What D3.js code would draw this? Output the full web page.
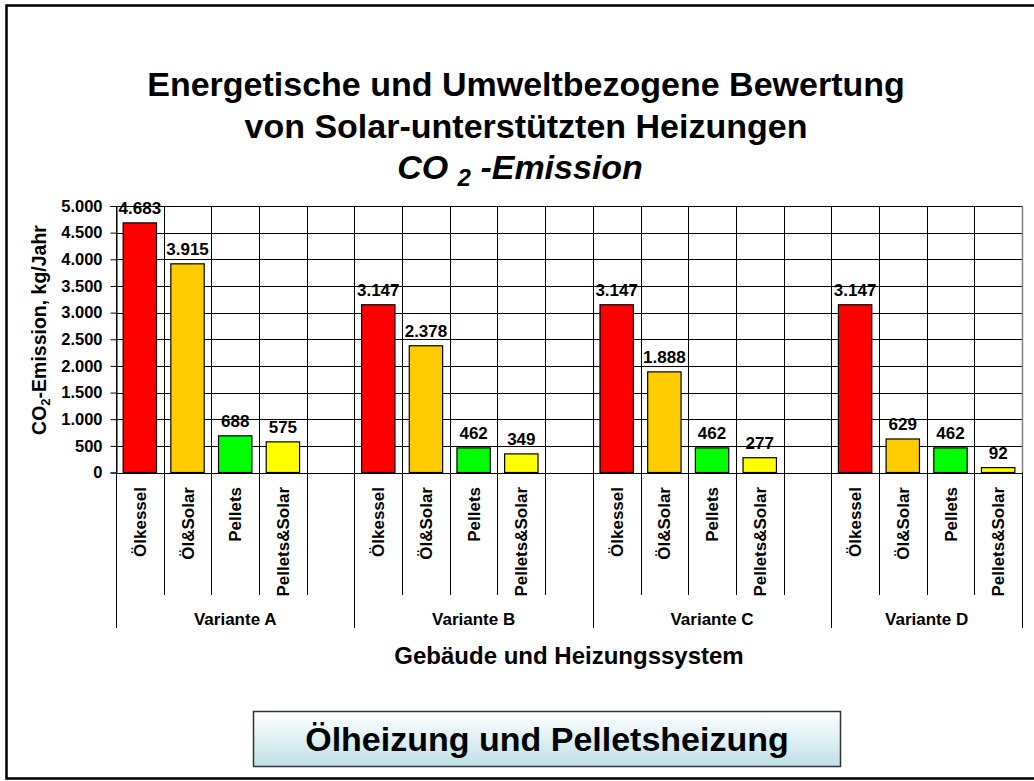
<!DOCTYPE html>
<html>
<head>
<meta charset="utf-8">
<style>
  html, body { margin: 0; background: #fff; overflow: hidden; }
  svg { display: block; }
  text { font-family: "Liberation Sans", Arial, sans-serif; font-weight: bold; fill: #000; }
</style>
</head>
<body>
<div id="chart"></div>

<script src="https://cdn.jsdelivr.net/npm/d3@7"></script>
<script>
    // chart data
    var variants = ["Variante A", "Variante B", "Variante C", "Variante D"];
    var systems = ["Ölkessel", "Öl&Solar", "Pellets", "Pellets&Solar"];
    var varianteA = [4683, 3915, 688, 575];
    var varianteB = [3147, 2378, 462, 349];
    var varianteC = [3147, 1888, 462, 277];
    var varianteD = [3147, 629, 462, 92];
    var yTicks = [0, 500, 1000, 1500, 2000, 2500, 3000, 3500, 4000, 4500, 5000];

    var barColors = ["#ff0000", "#ffcc00", "#00ff00", "#ffff00"];

    var width = 1034, height = 781;
    var plotLeft = 116, plotRight = 1022, plotTop = 206, plotBottom = 472.5;

    var de = d3.formatLocale({ decimal: ",", thousands: ".", grouping: [3], currency: ["", " €"] });
    var fmt = de.format(",");

    var svg = d3.select("#chart")
        .append("svg")
        .attr("width", width)
        .attr("height", height);

    // outer frame: top, left and bottom edges (right edge is off-screen)
    svg.append("path")
        .attr("d", "M" + width + ",5.5 H6.5 V778.5 H" + width)
        .attr("fill", "none")
        .attr("stroke", "#000")
        .attr("stroke-width", 2.5);

    // build slots: 4 systems per variant + an empty slot between variants
    var seriesByVariant = [varianteA, varianteB, varianteC, varianteD];
    var slots = [];
    var bars = [];
    variants.forEach(function(v, i) {
        systems.forEach(function(s, j) {
            var key = v + "|" + s;
            slots.push(key);
            bars.push({ key: key, variant: v, system: s, idx: j, value: seriesByVariant[i][j] });
        });
        if (i < variants.length - 1) slots.push(v + "|gap");
    });

    var x = d3.scaleBand()
        .domain(slots)
        .range([plotLeft, plotRight]);

    var y = d3.scaleLinear()
        .domain([0, 5000])
        .range([plotBottom, plotTop]);

    var step = x.step();

    // horizontal grid lines
    svg.append("g")
        .selectAll("line")
        .data(yTicks)
        .enter().append("line")
          .attr("x1", plotLeft).attr("x2", plotRight)
          .attr("y1", function(d) { return Math.round(y(d)) + 0.5; })
          .attr("y2", function(d) { return Math.round(y(d)) + 0.5; })
          .attr("stroke", "#000")
          .attr("stroke-width", 1);

    // vertical grid lines + category separators below the axis
    var variantStarts = variants.map(function(v) { return x(v + "|" + systems[0]); });
    var bounds = slots.map(function(s) { return x(s); }).concat([plotRight]);
    svg.append("g")
        .selectAll("line")
        .data(bounds)
        .enter().append("line")
          .attr("x1", function(d) { return Math.round(d) + 0.5; })
          .attr("x2", function(d) { return Math.round(d) + 0.5; })
          .attr("y1", plotTop)
          .attr("y2", function(d, i) {
              var isVariant = i === bounds.length - 1 || variantStarts.some(function(s) { return Math.abs(s - d) < 0.1; });
              return isVariant ? 628 : 595;
          })
          .attr("stroke", "#000")
          .attr("stroke-width", 1);

    // right plot border in grey
    svg.append("line")
        .attr("x1", plotRight + 0.5).attr("x2", plotRight + 0.5)
        .attr("y1", plotTop).attr("y2", plotBottom)
        .attr("stroke", "#808080")
        .attr("stroke-width", 1.5);

    // y axis
    var yAxis = svg.append("g")
        .attr("transform", "translate(" + (plotLeft + 0.5) + ",0)")
        .call(d3.axisLeft(y).tickValues(yTicks).tickFormat(fmt).tickSize(6).tickPadding(8));
    yAxis.select(".domain").attr("stroke", "#000");
    yAxis.selectAll(".tick line").attr("stroke", "#000");
    yAxis.selectAll(".tick text")
        .attr("font-size", 16.5)
        .attr("font-family", "Liberation Sans, Arial, sans-serif")
        .attr("font-weight", "bold")
        .attr("fill", "#000");

    // bars
    var barPad = step * 0.15;
    svg.append("g")
        .selectAll("rect")
        .data(bars)
        .enter().append("rect")
          .attr("x", function(d) { return x(d.key) + barPad; })
          .attr("y", function(d) { return y(d.value); })
          .attr("width", step - 2 * barPad)
          .attr("height", function(d) { return y(0) - y(d.value); })
          .attr("fill", function(d) { return barColors[d.idx]; })
          .attr("stroke", "#000")
          .attr("stroke-width", 1.2);

    // value labels
    svg.append("g")
        .selectAll("text")
        .data(bars)
        .enter().append("text")
          .attr("x", function(d) { return x(d.key) + step / 2; })
          .attr("y", function(d) { return y(d.value) - 9; })
          .attr("text-anchor", "middle")
          .attr("font-size", 17)
          .text(function(d) { return fmt(d.value); });

    // rotated system labels
    svg.append("g")
        .selectAll("text")
        .data(bars)
        .enter().append("text")
          .attr("transform", function(d) { return "translate(" + (x(d.key) + step / 2) + ",487) rotate(-90)"; })
          .attr("dy", "0.36em")
          .attr("text-anchor", "end")
          .attr("font-size", 17)
          .text(function(d) { return d.system; });

    // variant labels
    svg.append("g")
        .selectAll("text")
        .data(variants)
        .enter().append("text")
          .attr("x", function(v, i) {
              var end = i < variants.length - 1 ? variantStarts[i + 1] : plotRight;
              return (variantStarts[i] + end) / 2;
          })
          .attr("y", 625)
          .attr("text-anchor", "middle")
          .attr("font-size", 17)
          .text(function(v) { return v; });

    // x axis title
    svg.append("text")
        .attr("x", (plotLeft + plotRight) / 2)
        .attr("y", 664)
        .attr("text-anchor", "middle")
        .attr("font-size", 24)
        .text("Gebäude und Heizungssystem");

    // y axis title
    var yTitle = svg.append("text")
        .attr("transform", "translate(46,330) rotate(-90)")
        .attr("text-anchor", "middle")
        .attr("font-size", 19.5);
    yTitle.append("tspan").text("CO");
    yTitle.append("tspan").attr("font-size", 13).attr("dy", 4).text("2");
    yTitle.append("tspan").attr("dy", -4).text("-Emission, kg/Jahr");

    // chart title
    svg.append("text")
        .attr("x", 526).attr("y", 96)
        .attr("text-anchor", "middle")
        .attr("font-size", 34)
        .text("Energetische und Umweltbezogene Bewertung");
    svg.append("text")
        .attr("x", 526).attr("y", 138)
        .attr("text-anchor", "middle")
        .attr("font-size", 34)
        .text("von Solar-unterstützten Heizungen");
    var sub = svg.append("text")
        .attr("x", 520).attr("y", 179)
        .attr("text-anchor", "middle")
        .attr("font-size", 34)
        .attr("font-style", "italic");
    sub.append("tspan").text("CO ");
    sub.append("tspan").attr("font-size", 24).attr("dy", 7).text("2");
    sub.append("tspan").attr("dy", -7).text(" -Emission");

    // bottom box with gradient
    var grad = svg.append("defs").append("linearGradient")
        .attr("id", "boxGrad")
        .attr("x1", 0).attr("y1", 0).attr("x2", 0).attr("y2", 1);
    grad.append("stop").attr("offset", "0%").attr("stop-color", "#ffffff");
    grad.append("stop").attr("offset", "100%").attr("stop-color", "#bfe0e6");

    svg.append("rect")
        .attr("x", 253.5).attr("y", 711.5)
        .attr("width", 587).attr("height", 55)
        .attr("fill", "url(#boxGrad)")
        .attr("stroke", "#333")
        .attr("stroke-width", 1.5);

    svg.append("text")
        .attr("x", 547).attr("y", 751)
        .attr("text-anchor", "middle")
        .attr("font-size", 34)
        .text("Ölheizung und Pelletsheizung");
</script>
</body>
</html>
